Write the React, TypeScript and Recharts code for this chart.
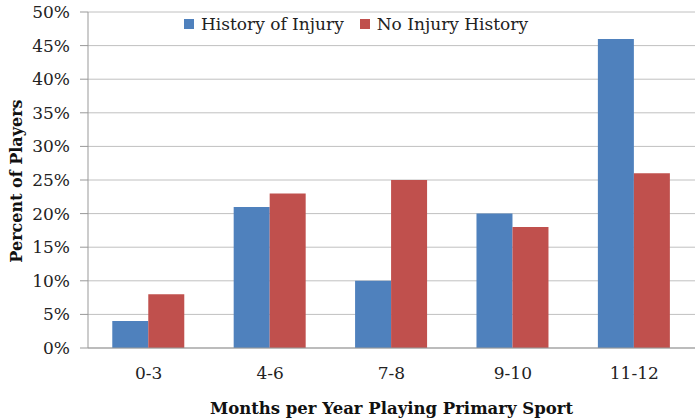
import { BarChart, Bar, XAxis, YAxis, CartesianGrid, Legend } from 'recharts'

const categories = ['0-3', '4-6', '7-8', '9-10', '11-12']
const injuryHistory = [4, 21, 10, 20, 46]
const noInjuryHistory = [8, 23, 25, 18, 26]
const yTicks = [0, 5, 10, 15, 20, 25, 30, 35, 40, 45, 50]

const data = categories.map((c, i) => ({
  name: c,
  idx: i,
  injury: injuryHistory[i],
  noInjury: noInjuryHistory[i],
}))

const FONT = '"DejaVu Serif", serif'
const BLUE = '#4F81BD'
const RED = '#C0504D'

function LegendBox() {
  const items = [
    { label: 'History of Injury', color: BLUE },
    { label: 'No Injury History', color: RED },
  ]
  return (
    <div style={{ display: 'flex', gap: 16, fontFamily: FONT, fontSize: 17, color: '#222' }}>
      {items.map(it => (
        <div key={it.label} style={{ display: 'flex', alignItems: 'center' }}>
          <span style={{ width: 10, height: 10, background: it.color, marginRight: 7, display: 'inline-block' }} />
          {it.label}
        </div>
      ))}
    </div>
  )
}

const YLabel = () => (
  <text
    x={16}
    y={181}
    transform="rotate(-90 16 181)"
    textAnchor="middle"
    dominantBaseline="central"
    fill="#111"
    fontFamily={FONT}
    fontSize={16}
    fontWeight="bold"
  >
    Percent of Players
  </text>
)

export default function App() {
  return (
    <div style={{ position: 'absolute', left: 0, top: 0, width: 700, height: 420, background: '#fff' }}>
      <BarChart
        width={700}
        height={420}
        data={data}
        margin={{ top: 12, right: 5, left: 0, bottom: 0 }}
        barCategoryGap="20%"
        barGap={0}
      >
        <CartesianGrid vertical={false} stroke="#c0c0c0" />
        <XAxis
          xAxisId="bounds"
          type="number"
          dataKey="idx"
          domain={[0, 5]}
          ticks={[0, 1, 2, 3, 4, 5]}
          tick={false}
          axisLine={false}
          tickLine={{ stroke: '#999' }}
          tickSize={6}
          height={0}
        />
        <XAxis
          dataKey="name"
          height={72}
          tickLine={false}
          tickSize={6}
          tickMargin={13}
          axisLine={{ stroke: '#999' }}
          tick={{ fill: '#222', fontFamily: FONT, fontSize: 17 }}
          label={{
            value: 'Months per Year Playing Primary Sport',
            position: 'insideBottom',
            offset: 6,
            style: { fill: '#111', fontFamily: FONT, fontSize: 16.5, fontWeight: 'bold' },
          }}
        />
        <YAxis
          width={88}
          domain={[0, 50]}
          ticks={yTicks}
          tickFormatter={v => `${v}%`}
          tickSize={8}
          tickMargin={10}
          axisLine={{ stroke: '#999' }}
          tickLine={{ stroke: '#999' }}
          tick={{ fill: '#222', fontFamily: FONT, fontSize: 17 }}
          label={<YLabel />}
        />
        <Legend
          layout="horizontal"
          verticalAlign="middle"
          content={() => <LegendBox />}
          wrapperStyle={{ top: 14, left: 184, width: 420 }}
        />
        <Bar dataKey="injury" fill={BLUE} isAnimationActive={false} />
        <Bar dataKey="noInjury" fill={RED} isAnimationActive={false} />
      </BarChart>
    </div>
  )
}
